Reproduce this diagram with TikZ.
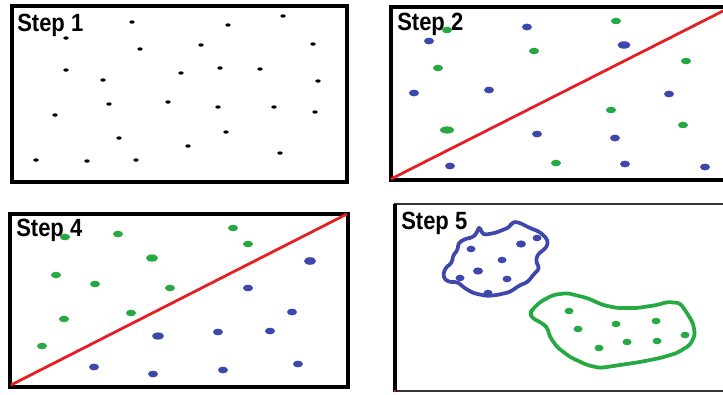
\documentclass[tikz,border=0pt]{standalone}
\usepackage{fontspec}
\setmainfont{Liberation Sans}
\definecolor{dotblue}{RGB}{62,72,172}
\definecolor{dotgreen}{RGB}{38,168,66}
\definecolor{sepred}{RGB}{228,32,36}
\newcommand{\steptext}[1]{\scalebox{0.97}[1.1]{#1}}
\begin{document}
\begin{tikzpicture}[x=0.75pt,y=-0.75pt,
  frame/.style={draw=black,line width=2.6pt},
  sepline/.style={draw=sepred,line width=2.1pt},
  steplabel/.style={anchor=base west,inner sep=0pt,font=\bfseries\fontsize{17pt}{19pt}\selectfont},
  blob/.style={line width=2.8pt,line join=round,rounded corners=2.5pt}]
\useasboundingbox (0,0) rectangle (723,394);
\fill[white] (0,0) rectangle (723,394);
% ---------- Step 1 ----------
\draw[frame] (12,6) rectangle (347,182);
\node[steplabel] (s1) at (17,31) {\steptext{Step 1}};
\foreach \x/\y in {132/22,228/25,283/16,66/38,140/49,201/45,313/44,66/70,103/80,181/73,220/68,260/69,318/81,55/115,109/104,168/102,218/107,274/107,315/112,119/138,226/132,188/146,280/153,36/160,87/161,136/160}
  \fill[black] (\x,\y) ellipse [x radius=2.7, y radius=1.7];
% ---------- Step 2 ----------
\draw[frame] (726,7) -- (391,7) -- (391,180) -- (726,180);
\draw[sepline] (391,179) -- (723,11);
\node[steplabel] (s2) at (397,30) {\steptext{Step 2}};
\foreach \x/\y in {447/30,616/21,534/51,438/68,686/61,611/110,683/125,556/163}
  \fill[dotgreen] (\x,\y) ellipse [x radius=5, y radius=3.3];
\fill[dotgreen] (447,130) ellipse [x radius=7, y radius=3.6];
\foreach \x/\y in {527/27,429/41,414/93,489/90,669/94,537/134,615/138,450/166,625/164,705/167}
  \fill[dotblue] (\x,\y) ellipse [x radius=5, y radius=3.4];
\fill[dotblue] (624,45) ellipse [x radius=6.5, y radius=3.7];
% ---------- Step 4 ----------
\draw[frame] (10,214) rectangle (348,387);
\draw[sepline] (11,385) -- (347,214);
\node[steplabel] (s4) at (16,236) {\steptext{Step 4}};
\foreach \x/\y in {65/237,118/234,233/228,248/244,56/275,95/284,170/288,131/313,64/319,42/346}
  \fill[dotgreen] (\x,\y) ellipse [x radius=5, y radius=3.3];
\fill[dotgreen] (152,258) ellipse [x radius=6, y radius=3.6];
\foreach \x/\y in {248/288,292/312,218/332,270/331,94/367,153/374,223/370,298/364}
  \fill[dotblue] (\x,\y) ellipse [x radius=5, y radius=3.4];
\fill[dotblue] (310,261) ellipse [x radius=6, y radius=3.8];
\fill[dotblue] (158,336) ellipse [x radius=6, y radius=3.6];
% ---------- Step 5 ----------
\draw[black!80,line width=1.1pt] (394,204) -- (726,204);
\draw[black!80,line width=1.1pt] (394,391) -- (726,391);
\draw[black,line width=2.6pt] (395,204) -- (395,392);
\fill[sepred] (395,391) circle (1.4);
\node[steplabel] (s5) at (401,229) {\steptext{Step 5}};
\draw[blob,draw=dotblue] (479,226) -- (483,235) -- (495,233) -- (510,227) -- (512,222) -- (518,222) -- (530,228) -- (540,232) -- (548,240) -- (547,247) -- (537,255) -- (536,263) -- (540,268) -- (533,275) -- (528,282) -- (520,285) -- (510,292) -- (497,295) -- (487,296) -- (473,293) -- (463,287) -- (458,282) -- (448,282) -- (443,277) -- (445,268) -- (452,263) -- (453,255) -- (458,250) -- (458,243) -- (467,238) -- (472,238) -- (477,233) -- cycle;
\foreach \x/\y in {471/249,537/238,502/260,460/278,507/279,488/293}
  \fill[dotblue] (\x,\y) ellipse [x radius=4.5, y radius=3.3];
\fill[dotblue] (521,244) ellipse [x radius=5, y radius=3.6];
\fill[dotblue] (478,271) ellipse [x radius=5, y radius=3.6];
\draw[blob,draw=dotgreen] (532,310) -- (540,302) -- (553,295) -- (567,293) -- (587,298) -- (603,305) -- (617,308) -- (637,308) -- (657,305) -- (667,302) -- (680,303) -- (687,313) -- (693,323) -- (695,335) -- (690,345) -- (677,353) -- (660,358) -- (640,362) -- (620,365) -- (600,368) -- (587,365) -- (570,357) -- (557,347) -- (550,337) -- (547,327) -- (540,322) -- (532,318) -- (530,313) -- cycle;
\foreach \x/\y in {569/311,578/329,616/324,656/321,685/335,627/342,657/341,599/348}
  \fill[dotgreen] (\x,\y) ellipse [x radius=4.5, y radius=3.3];
\end{tikzpicture}
\end{document}
